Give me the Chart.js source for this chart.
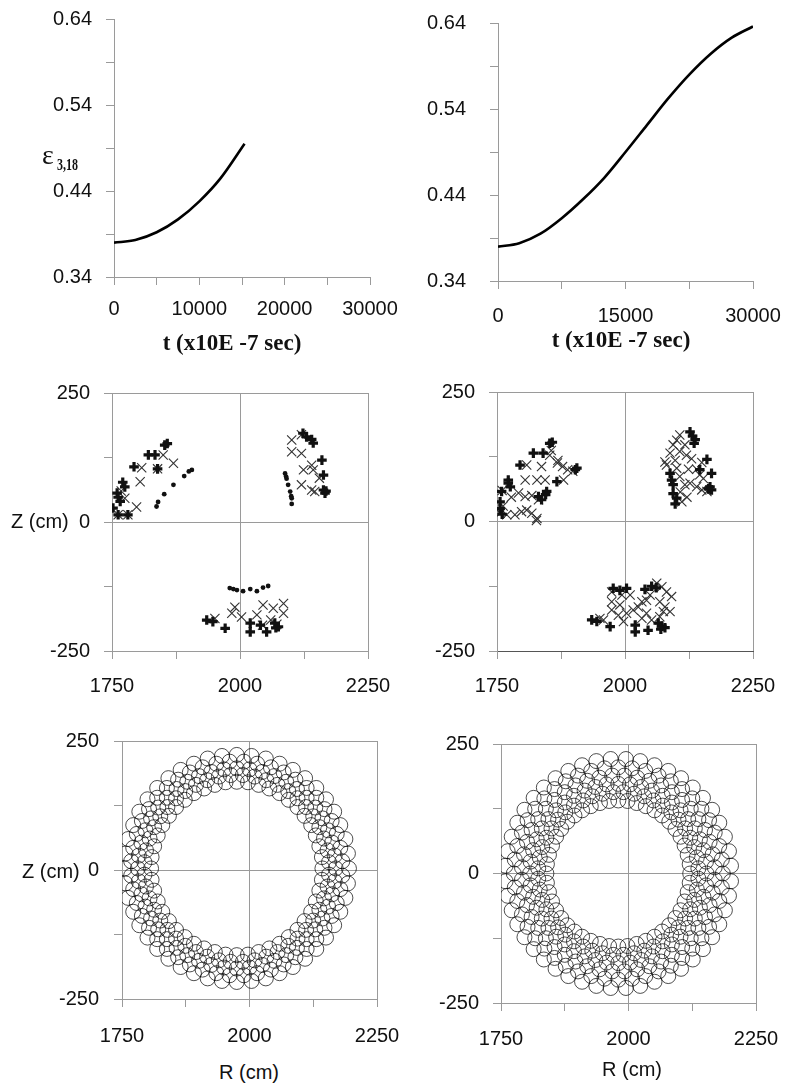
<!DOCTYPE html>
<html><head><meta charset="utf-8">
<script src="https://cdn.jsdelivr.net/npm/chart.js@4.4.1/dist/chart.umd.min.js"></script>
<style>
html,body{margin:0;padding:0;background:#fff;}
body{position:relative;width:786px;height:1087px;overflow:hidden;}
canvas{position:absolute;}
.abs{position:absolute;white-space:nowrap;line-height:1;color:#111;}
.sans{font-family:'Liberation Sans',Arial,sans-serif;font-size:20px;}
.ttl{font-family:'Liberation Serif','Times New Roman',serif;font-weight:bold;font-size:23px;transform:translate(-50%,-50%);}
.rt{font-family:'Liberation Sans',Arial,sans-serif;font-size:20px;transform:translate(-50%,-50%);}
</style></head><body>
<canvas id="c1"></canvas><canvas id="c2"></canvas>
<canvas id="c3"></canvas><canvas id="c4"></canvas>
<canvas id="c5"></canvas><canvas id="c6"></canvas>
<span class="abs" style="left:42px;top:141px;font-family:'Liberation Serif',serif;font-size:28px;">ε</span>
<span class="abs" style="left:57px;top:157px;font-family:'Liberation Serif',serif;font-weight:bold;font-size:16px;transform:scaleX(0.75);transform-origin:0 0;">3,18</span>
<span class="abs ttl" style="left:232px;top:342px;">t (x10E -7 sec)</span>
<span class="abs ttl" style="left:621px;top:339px;">t (x10E -7 sec)</span>
<span class="abs sans" style="left:11px;top:511px;">Z (cm)</span>
<span class="abs sans" style="left:22px;top:861px;">Z (cm)</span>
<span class="abs rt" style="left:249px;top:1072px;">R (cm)</span>
<span class="abs rt" style="left:632px;top:1069px;">R (cm)</span>
<script>
// ---------- data ----------
const tLeft = [0, 2500, 5000, 7500, 10000, 12500, 15300];
const epsLeft = [0.380, 0.383, 0.392, 0.407, 0.428, 0.455, 0.495];
const tRight = [0, 2500, 5000, 7500, 10000, 12500, 15000, 17500, 20000, 22500, 25000, 27500, 30000];
const epsRight = [0.380, 0.384, 0.395, 0.413, 0.435, 0.460, 0.490, 0.521, 0.552, 0.580, 0.604, 0.623, 0.636];

const epsTicks = [0.34, 0.39, 0.44, 0.49, 0.54, 0.59, 0.64];
const epsTickLabels = ['0.34', '', '0.44', '', '0.54', '', '0.64'];
const tLeftTicks = [0, 5000, 10000, 15000, 20000, 25000, 30000];
const tLeftTickLabels = ['0', '', '10000', '', '20000', '', '30000'];
const tRightTicks = [0, 7500, 15000, 22500, 30000];
const tRightTickLabels = ['0', '', '15000', '', '30000'];
const rTicks = [1750, 1875, 2000, 2125, 2250];
const rTickLabels = ['1750', '', '2000', '', '2250'];
const zTicks = [-250, -125, 0, 125, 250];
const zTickLabels = ['-250', '', '0', '', '250'];

// middle-left panel
const midLeftPlusR = [1853,1858,1821,1834,1839,1793,1771,1775,1760,1762,1752,1762,1781,1766, 2123,2130,2140,2143,2160,2163,2163,2166,2168, 1935,1947,1971,2020,2020,2052,2068,2075,2070,2040];
const midLeftPlusZ = [149,152,130,130,103,107,77,68,56,48,27,14,14,40, 172,165,160,153,120,91,62,56,60, -190,-193,-206,-196,-213,-213,-196,-203,-205,-200];
const midLeftCrossR = [1850,1808,1839,1870,1805,1775,1798,1762,1781,1768, 2101,2120,2101,2120,2140,2124,2143,2120,2140,2146,2155, 1951,1984,2003,2033,2045,2065,2085,2085,2060,2044,2072,1990];
const midLeftCrossZ = [130,105,103,114,78,46,29,14,14,60, 159,169,136,133,110,101,101,72,62,59,85, -187,-177,-184,-180,-161,-167,-158,-177,-190,-200,-198,-165];
const midLeftDotR = [1906,1900,1891,1870,1852,1840,1837, 2088,2090,2091,2094,2098,2100,2101,2101, 1980,1987,1994,2006,2020,2033,2045,2055];
const midLeftDotZ = [101,98,89,72,54,39,30, 94,88,84,72,59,50,46,35, -128,-130,-132,-134,-130,-134,-127,-124];

// middle-right panel
const midRightPlusR = [1853,1858,1821,1840,1795,1906,1903,1867,1847,1845,1772,1772,1776,1759,1756,1756,1831,1837,1760, 2127,2132,2137,2135,2160,2169,2166,2169,2163,2088,2091,2094,2094,2101,2098,2146, 1977,1990,2003,2039,2052,2061,1935,1945,1971,2020,2020,2045,2065,2072,2078,2070];
const midRightPlusZ = [151,153,132,132,109,103,100,77,58,52,80,74,67,58,38,25,48,42,14, 173,165,158,151,120,93,67,61,63,93,80,71,54,45,34,100, -129,-133,-129,-131,-125,-128,-190,-193,-203,-213,-200,-210,-196,-202,-205,-208];
const midRightCrossR = [1853,1808,1837,1805,1828,1844,1868,1878,1888,1898,1880,1756,1769,1785,1798,1808,1818,1828,1792,1805,1818,1831,1760,1778,1827,1762,1856,1869,
  2107,2094,2117,2088,2107,2078,2098,2120,2081,2101,2124,2140,2150,2146,2107,2127,2140,2150,2160,2117,2111,2121,2108,2153,2101,2130,
  1974,1994,2010,1974,1990,1974,1987,2003,2016,2026,2033,2042,2049,2062,2072,2081,2091,2068,2078,2088,2042,2033,2052,1997,1958,1951,2068,2075];
const midRightCrossZ = [128,109,106,80,80,80,113,106,100,97,80,16,13,13,19,22,16,6,55,48,50,42,60,47,2,30,137,118,
  167,148,148,132,135,115,118,128,109,103,101,101,114,90,87,74,67,61,58,71,38,47,57,83,157,121,
  -136,-142,-142,-155,-161,-171,-181,-177,-171,-165,-155,-152,-142,-119,-126,-136,-145,-155,-165,-174,-177,-187,-190,-193,-190,-187,-184,-174];

// bottom-left ring: circle centres (R, Z in cm)
const ringLeftR = [
  2143,2142,2137,2130,2121,2108,2094,2077,2059,2039,2018,1997, 1975,1953,1932,1911,1891,1873,1856,1842,1829,1820,1813,1808,
  1807,1808,1813,1820,1829,1842,1856,1873,1891,1911,1932,1953, 1975,1997,2018,2039,2059,2077,2094,2108,2121,2130,2137,2142,
  2156,2153,2146,2137,2125,2111,2094,2076,2055,2033,2010,1987, 1963,1940,1917,1895,1874,1856,1839,1825,1813,1804,1797,1794,
  1794,1797,1804,1813,1825,1839,1856,1874,1895,1917,1940,1963, 1987,2010,2033,2055,2076,2094,2111,2125,2137,2146,2153,2156,
  2169,2167,2162,2154,2143,2129,2112,2093,2072,2049,2025,2000, 1975,1950,1925,1901,1878,1857,1838,1821,1807,1796,1788,1783,
  1781,1783,1788,1796,1807,1821,1838,1857,1878,1901,1925,1950, 1975,2000,2025,2049,2072,2093,2112,2129,2143,2154,2162,2167,
  2182,2178,2171,2161,2147,2131,2112,2090,2067,2042,2015,1989, 1961,1935,1908,1883,1860,1838,1819,1803,1789,1779,1772,1768,
  1768,1772,1779,1789,1803,1819,1838,1860,1883,1908,1935,1961, 1989,2015,2042,2067,2090,2112,2131,2147,2161,2171,2178,2182,
  2195,2193,2188,2178,2166,2150,2131,2109,2085,2059,2032,2004, 1975,1946,1918,1891,1865,1841,1819,1800,1784,1772,1762,1757,
  1755,1757,1762,1772,1784,1800,1819,1841,1865,1891,1918,1946, 1975,2004,2032,2059,2085,2109,2131,2150,2166,2178,2188,2193];
const ringLeftZ = [
  3,25,46,67,87,105,122,136,149,158,165,170, 171,170,165,158,149,136,122,105,87,67,46,25,
  3,-19,-40,-61,-81,-99,-116,-130,-143,-152,-159,-164, -165,-164,-159,-152,-143,-130,-116,-99,-81,-61,-40,-19,
  15,38,61,83,104,122,139,153,165,174,181,184, 184,181,174,165,153,139,122,104,83,61,38,15,
  -9,-32,-55,-77,-98,-116,-133,-147,-159,-168,-175,-178, -178,-175,-168,-159,-147,-133,-116,-98,-77,-55,-32,-9,
  3,28,53,77,100,121,140,157,171,182,190,195, 197,195,190,182,171,157,140,121,100,77,53,28,
  3,-22,-47,-71,-94,-115,-134,-151,-165,-176,-184,-189, -191,-189,-184,-176,-165,-151,-134,-115,-94,-71,-47,-22,
  17,43,70,95,118,140,159,175,189,199,206,210, 210,206,199,189,175,159,140,118,95,70,43,17,
  -11,-37,-64,-89,-112,-134,-153,-169,-183,-193,-200,-204, -204,-200,-193,-183,-169,-153,-134,-112,-89,-64,-37,-11,
  3,32,60,87,113,137,159,178,194,206,216,221, 223,221,216,206,194,178,159,137,113,87,60,32,
  3,-26,-54,-81,-107,-131,-153,-172,-188,-200,-210,-215, -217,-215,-210,-200,-188,-172,-153,-131,-107,-81,-54,-26];

// bottom-right ring: circle centres (R, Z in cm)
const ringRightR = [
  2121,2120,2116,2110,2102,2092,2080,2066,2051,2034,2016,1998, 1980,1962,1944,1926,1909,1894,1880,1868,1858,1850,1844,1840,
  1839,1840,1844,1850,1858,1868,1880,1894,1909,1926,1944,1962, 1980,1998,2016,2034,2051,2066,2080,2092,2102,2110,2116,2120,
  2137,2134,2129,2121,2111,2098,2084,2067,2049,2031,2011,1990, 1970,1949,1929,1911,1893,1876,1862,1849,1839,1831,1826,1823,
  1823,1826,1831,1839,1849,1862,1876,1893,1911,1929,1949,1970, 1990,2011,2031,2049,2067,2084,2098,2111,2121,2129,2134,2137,
  2153,2152,2147,2140,2130,2117,2102,2085,2067,2046,2025,2003, 1980,1957,1935,1914,1893,1875,1858,1843,1830,1820,1813,1808,
  1807,1808,1813,1820,1830,1843,1858,1875,1893,1914,1935,1957, 1980,2003,2025,2046,2067,2085,2102,2117,2130,2140,2147,2152,
  2169,2165,2159,2150,2137,2122,2105,2085,2064,2041,2017,1992, 1968,1943,1919,1896,1875,1855,1838,1823,1810,1801,1795,1791,
  1791,1795,1801,1810,1823,1838,1855,1875,1896,1919,1943,1968, 1992,2017,2041,2064,2085,2105,2122,2137,2150,2159,2165,2169,
  2185,2183,2178,2169,2158,2143,2125,2105,2083,2059,2033,2007, 1980,1953,1927,1901,1877,1855,1835,1817,1802,1791,1782,1777,
  1775,1777,1782,1791,1802,1817,1835,1855,1877,1901,1927,1953, 1980,2007,2033,2059,2083,2105,2125,2143,2158,2169,2178,2183,
  2201,2197,2189,2178,2164,2146,2126,2103,2078,2051,2023,1995, 1965,1937,1909,1882,1857,1834,1814,1796,1782,1771,1763,1759,
  1759,1763,1771,1782,1796,1814,1834,1857,1882,1909,1937,1965, 1995,2023,2051,2078,2103,2126,2146,2164,2178,2189,2197,2201];
const ringRightZ = [
  0,18,36,54,71,86,100,112,122,130,136,140, 141,140,136,130,122,112,100,86,71,54,36,18,
  0,-18,-36,-54,-71,-86,-100,-112,-122,-130,-136,-140, -141,-140,-136,-130,-122,-112,-100,-86,-71,-54,-36,-18,
  10,31,51,69,87,104,118,131,141,149,154,157, 157,154,149,141,131,118,104,87,69,51,31,10,
  -10,-31,-51,-69,-87,-104,-118,-131,-141,-149,-154,-157, -157,-154,-149,-141,-131,-118,-104,-87,-69,-51,-31,-10,
  0,23,45,66,87,105,122,137,150,160,167,172, 173,172,167,160,150,137,122,105,87,66,45,23,
  0,-23,-45,-66,-87,-105,-122,-137,-150,-160,-167,-172, -173,-172,-167,-160,-150,-137,-122,-105,-87,-66,-45,-23,
  12,37,61,84,105,125,142,157,170,179,185,189, 189,185,179,170,157,142,125,105,84,61,37,12,
  -12,-37,-61,-84,-105,-125,-142,-157,-170,-179,-185,-189, -189,-185,-179,-170,-157,-142,-125,-105,-84,-61,-37,-12,
  0,27,53,79,103,125,145,163,178,189,198,203, 205,203,198,189,178,163,145,125,103,79,53,27,
  0,-27,-53,-79,-103,-125,-145,-163,-178,-189,-198,-203, -205,-203,-198,-189,-178,-163,-145,-125,-103,-79,-53,-27,
  15,43,71,98,123,146,166,184,198,209,217,221, 221,217,209,198,184,166,146,123,98,71,43,15,
  -15,-43,-71,-98,-123,-146,-166,-184,-198,-209,-217,-221, -221,-217,-209,-198,-184,-166,-146,-123,-98,-71,-43,-15];

// ---------- helpers ----------
const GRAY = '#9a9a9a';
const TEXT = '#111';
const FONT = {family: "'Liberation Sans', Arial, sans-serif", size: 20};
const pts = (xs, ys) => xs.map((x, i) => ({x: x, y: ys[i]}));

function linScale(min, max, values, labels, pad, showGrid, borderColor) {
  return {
    type: 'linear', min: min, max: max,
    afterBuildTicks: s => { s.ticks = values.map(v => ({value: v})); },
    ticks: {autoSkip: false, maxRotation: 0, minRotation: 0, padding: pad, color: TEXT, font: FONT,
            callback: (v, i) => labels[i]},
    grid: {drawOnChartArea: showGrid, drawTicks: true, tickLength: 8, tickColor: GRAY, lineWidth: 1,
           color: ctx => (labels[ctx.index] === '' ? 'rgba(0,0,0,0)' : GRAY)},
    border: {display: true, color: borderColor || GRAY, width: 1}
  };
}

function makeChart(id, b, datasets, xs, ys) {
  const cv = document.getElementById(id);
  const W = b.cr - b.cl, H = b.cb - b.ct;
  cv.style.left = b.cl + 'px'; cv.style.top = b.ct + 'px';
  cv.width = W; cv.height = H; cv.style.width = W + 'px'; cv.style.height = H + 'px';
  const yw = b.al - b.cl, xh = b.cb - b.ab;
  xs.afterFit = s => { s.height = xh; };
  ys.afterFit = s => { s.width = yw; };
  return new Chart(cv, {
    type: 'scatter',
    data: {datasets: datasets},
    options: {
      responsive: false, animation: false, devicePixelRatio: 1, events: [],
      layout: {padding: {left: 0, top: b.at - b.ct, right: b.cr - b.ar, bottom: 0}},
      plugins: {legend: {display: false}, tooltip: {enabled: false}, title: {display: false}},
      scales: {x: xs, y: ys}
    }
  });
}

function curve(xs, ys) {
  return {data: pts(xs, ys), showLine: true, borderColor: '#000', borderWidth: 2.6, pointRadius: 0,
          cubicInterpolationMode: 'monotone', fill: false};
}
function plusSet(r, z) {
  return {data: pts(r, z), pointStyle: 'cross', pointRadius: 4.8, borderWidth: 3.2, borderColor: '#111', backgroundColor: '#111'};
}
function crossSet(r, z) {
  return {data: pts(r, z), pointStyle: 'crossRot', pointRadius: 6.5, borderWidth: 1.1, borderColor: '#333', backgroundColor: '#333'};
}
function dotSet(r, z) {
  return {data: pts(r, z), pointStyle: 'circle', pointRadius: 2.4, borderWidth: 0, backgroundColor: '#111'};
}
function ringSet(r, z) {
  return {data: pts(r, z), pointStyle: 'circle', pointRadius: 7.5, borderWidth: 0.9,
          borderColor: 'rgba(0,0,0,0.78)', backgroundColor: 'rgba(0,0,0,0)'};
}

// ---------- charts ----------
makeChart('c1', {cl: 0, ct: -26, cr: 418, cb: 332, al: 114, at: 19, ar: 370, ab: 277},
  [curve(tLeft, epsLeft)],
  linScale(0, 30000, tLeftTicks, tLeftTickLabels, 12, false),
  linScale(0.34, 0.64, epsTicks, epsTickLabels, 14, false));

makeChart('c2', {cl: 400, ct: -22, cr: 801, cb: 336, al: 498, at: 23, ar: 753, ab: 281},
  [curve(tRight, epsRight)],
  linScale(0, 30000, tRightTicks, tRightTickLabels, 15, false),
  linScale(0.34, 0.64, epsTicks, epsTickLabels, 24, false));

makeChart('c3', {cl: 0, ct: 348, cr: 416, cb: 701, al: 112, at: 393, ar: 368, ab: 651},
  [plusSet(midLeftPlusR, midLeftPlusZ), crossSet(midLeftCrossR, midLeftCrossZ), dotSet(midLeftDotR, midLeftDotZ)],
  linScale(1750, 2250, rTicks, rTickLabels, 15, true),
  linScale(-250, 250, zTicks, zTickLabels, 14, true));

makeChart('c4', {cl: 400, ct: 347, cr: 801, cb: 701, al: 497, at: 392, ar: 753, ab: 651},
  [plusSet(midRightPlusR, midRightPlusZ), crossSet(midRightCrossR, midRightCrossZ)],
  linScale(1750, 2250, rTicks, rTickLabels, 15, true, '#555'),
  linScale(-250, 250, zTicks, zTickLabels, 14, true));

makeChart('c5', {cl: 0, ct: 696, cr: 425, cb: 1054, al: 122, at: 741, ar: 377, ab: 999},
  [ringSet(ringLeftR, ringLeftZ)],
  linScale(1750, 2250, rTicks, rTickLabels, 17, true),
  linScale(-250, 250, zTicks, zTickLabels, 15, true));

makeChart('c6', {cl: 400, ct: 699, cr: 804, cb: 1058, al: 501, at: 744, ar: 756, ab: 1003},
  [ringSet(ringRightR, ringRightZ)],
  linScale(1750, 2250, rTicks, rTickLabels, 16, true),
  linScale(-250, 250, zTicks, zTickLabels, 14, true));
</script>
</body></html>
